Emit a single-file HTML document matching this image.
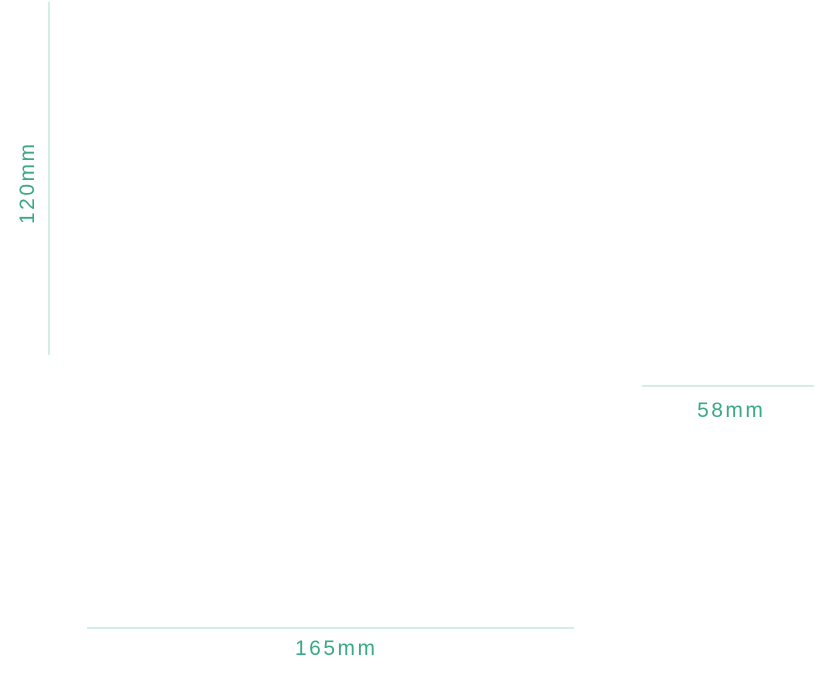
<!DOCTYPE html>
<html><head><style>
body{margin:0;width:828px;height:691px;background:#fff;position:relative;overflow:hidden;font-family:"Liberation Sans",sans-serif;}
.l{position:absolute;background:#d4eee5;}
.t{position:absolute;color:#3aa985;font-size:21px;line-height:24px;white-space:nowrap;text-align:center;letter-spacing:2.5px;text-indent:2.5px;}
</style></head><body>
<div class="l" style="left:48px;top:2px;width:2px;height:353px"></div>
<div class="t" style="left:-22px;top:172px;width:100px;transform:rotate(-90deg)">120mm</div>
<div class="l" style="left:642px;top:385px;width:172px;height:2px"></div>
<div class="t" style="left:680px;top:399px;width:100px">58mm</div>
<div class="l" style="left:87px;top:627px;width:487px;height:2px"></div>
<div class="t" style="left:285px;top:637px;width:100px">165mm</div>
</body></html>
